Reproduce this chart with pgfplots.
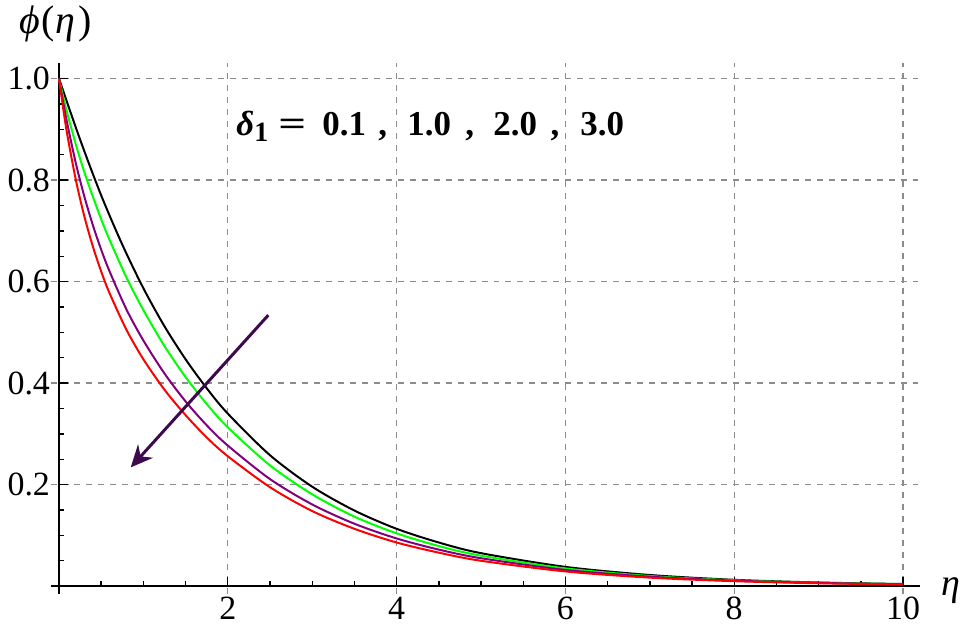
\documentclass[border=0pt]{standalone}
\usepackage{pgfplots}
\pgfplotsset{compat=1.18}
\usepackage{fontspec}
\setmainfont{Liberation Serif}
\usetikzlibrary{arrows.meta}
\definecolor{arrowpurple}{RGB}{62,10,78}
\definecolor{mpurple}{RGB}{128,0,128}
\tikzset{ann/.style={anchor=base west, inner sep=0pt, font=\fontsize{17.5}{20}\selectfont\bfseries}}
\begin{document}
\begin{tikzpicture}
\begin{axis}[
    scale only axis,
    width=435.7pt, height=265.8pt,
    xmin=-0.1, xmax=10.2,
    ymin=-0.015, ymax=1.03,
    axis lines=middle,
    axis line style={line width=0.8pt, -},
    xtick={2,4,6,8,10},
    ytick={0.2,0.4,0.6,0.8,1.0},
    minor xtick={0.5,1,...,10},
    minor ytick={0.05,0.1,...,1.0},
    yticklabel style={/pgf/number format/fixed, /pgf/number format/fixed zerofill, /pgf/number format/precision=1, xshift=-1pt},
    xticklabel style={yshift=-2pt},
    /pgf/number format/assume math mode=true,
    tick align=inside,
    major tick length=4.5pt,
    minor tick length=2.5pt,
    tick style={black, line width=0.7pt},
    ticklabel style={font=\fontsize{17}{20}\selectfont},
    grid=major,
    grid style={dash pattern=on 3pt off 3pt, gray!90, line width=0.7pt},
    clip=false,
]
% black
\addplot[black, line width=1pt, smooth] coordinates {
(0,1) (0.25,0.880) (0.5,0.770) (0.75,0.673) (1,0.587) (1.25,0.512) (1.5,0.447) (1.75,0.390) (2,0.340) (2.5,0.258) (3,0.196) (3.5,0.149) (4,0.113) (4.5,0.086) (5,0.065) (6,0.038) (7,0.022) (8,0.0125) (9,0.0072) (10,0.0042)};
% green
\addplot[green, line width=1pt, smooth] coordinates {
(0,1) (0.05,0.964) (0.1,0.931) (0.2,0.870) (0.3,0.816) (0.4,0.768) (0.5,0.723) (0.6,0.682) (0.8,0.608) (1,0.544) (1.25,0.473) (1.5,0.412) (1.75,0.359) (2,0.313) (2.5,0.238) (3,0.181) (3.5,0.137) (4,0.104) (4.5,0.079) (5,0.060) (6,0.035) (7,0.020) (8,0.0116) (9,0.0067) (10,0.0039)};
% purple
\addplot[mpurple, line width=1pt, smooth] coordinates {
(0,1) (0.05,0.953) (0.1,0.910) (0.2,0.833) (0.3,0.768) (0.4,0.712) (0.5,0.663) (0.6,0.620) (0.8,0.545) (1,0.484) (1.25,0.419) (1.5,0.364) (1.75,0.317) (2,0.277) (2.5,0.211) (3,0.161) (3.5,0.123) (4,0.094) (4.5,0.072) (5,0.055) (6,0.032) (7,0.0187) (8,0.0109) (9,0.0064) (10,0.0037)};
% red
\addplot[red, line width=1pt, smooth] coordinates {
(0,1) (0.05,0.941) (0.1,0.888) (0.2,0.800) (0.3,0.729) (0.4,0.670) (0.5,0.620) (0.6,0.577) (0.8,0.505) (1,0.447) (1.25,0.387) (1.5,0.337) (1.75,0.293) (2,0.256) (2.5,0.195) (3,0.148) (3.5,0.113) (4,0.086) (4.5,0.066) (5,0.050) (6,0.029) (7,0.0168) (8,0.0098) (9,0.0057) (10,0.0033)};
% arrow
\draw[arrowpurple, line width=1.5pt, -{Stealth[length=11pt,width=10pt]}] (axis cs:2.48,0.534) -- (axis cs:0.85,0.234);
% annotation
\node[ann] at (axis cs:2.097,0.888) {\textit{δ}};
\node[ann, font=\fontsize{14}{16}\selectfont\bfseries] at (axis cs:2.31,0.877) {1};
\node[ann] at (axis cs:2.595,0.888) {\scalebox{1.4}[1]{=}};
\node[ann] at (axis cs:3.116,0.888) {0.1};
\node[ann] at (axis cs:3.78,0.888) {,};
\node[ann] at (axis cs:4.123,0.888) {1.0};
\node[ann] at (axis cs:4.81,0.888) {,};
\node[ann] at (axis cs:5.142,0.888) {2.0};
\node[ann] at (axis cs:5.82,0.888) {,};
\node[ann] at (axis cs:6.173,0.888) {3.0};
\node[inner sep=0pt, font=\fontsize{20}{24}\selectfont] at (axis cs:-0.04,1.108) {\textit{ϕ}\hspace{0.05em}(\textit{η}\hspace{0.1em})};
\node[inner sep=0pt, font=\fontsize{19}{22}\selectfont] at (axis cs:10.57,-0.008) {\textit{η}};
\path (axis cs:-0.699,-0.0845) rectangle (axis cs:10.77,1.155);
\end{axis}
\end{tikzpicture}
\end{document}
